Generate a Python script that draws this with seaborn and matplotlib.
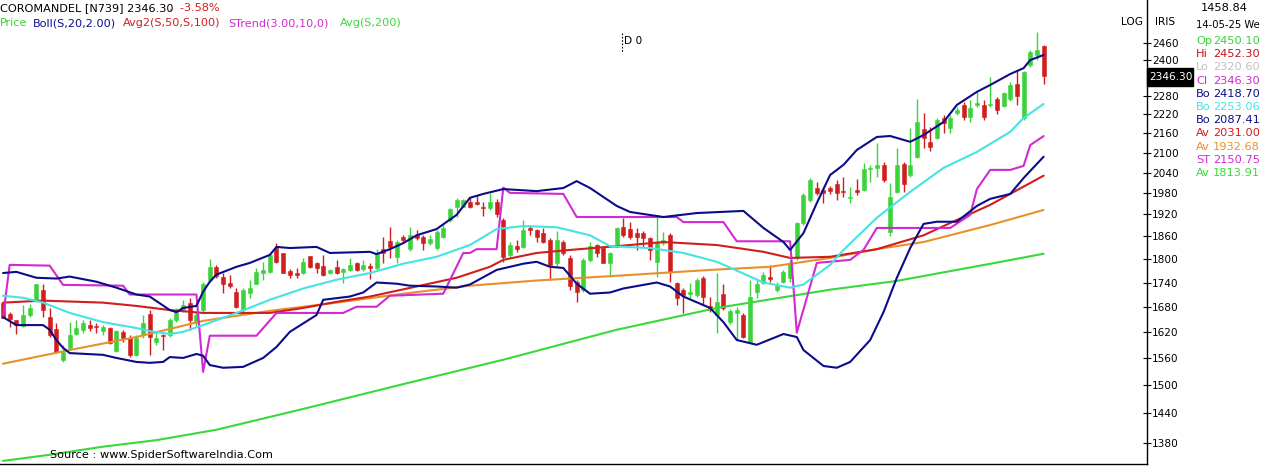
import numpy as np
import pandas as pd
import matplotlib
matplotlib.use("Agg")
import matplotlib.pyplot as plt
import seaborn as sns
from matplotlib.patches import Rectangle
from matplotlib.ticker import FixedLocator, FixedFormatter, NullLocator

# ---------------- data (daily candles, oldest -> newest) ----------------
opens = [1690, 1662, 1648, 1634, 1660, 1697, 1722, 1655, 1627, 1556,
         1583, 1615, 1625, 1636, 1634, 1622, 1629, 1576, 1620, 1606,
         1567, 1613, 1662, 1597, 1613, 1613, 1648, 1672, 1690, 1641,
         1672, 1747, 1780, 1755, 1740, 1717, 1672, 1715, 1735, 1765,
         1767, 1829, 1816, 1770, 1765, 1765, 1808, 1790, 1783, 1765,
         1780, 1767, 1772, 1790, 1775, 1783, 1777, 1826, 1848, 1806,
         1858, 1826, 1863, 1858, 1842, 1829, 1858, 1905, 1941, 1941,
         1955, 1955, 1941, 1939, 1955, 1905, 1811, 1834, 1832, 1882,
         1877, 1869, 1850, 1790, 1845, 1803, 1742, 1722, 1798, 1837,
         1829, 1790, 1832, 1885, 1880, 1869, 1869, 1855, 1793, 1842,
         1863, 1740, 1722, 1712, 1710, 1752, 1682, 1660, 1712, 1643,
         1665, 1660, 1597, 1717, 1740, 1755, 1722, 1742, 1752, 1803,
         1897, 1961, 1995, 1989, 1995, 2006, 1986, 1967, 1989, 1989,
         2051, 2054, 2063, 1871, 1984, 2066, 2033, 2087, 2173, 2133,
         2145, 2207, 2176, 2223, 2249, 2211, 2249, 2249, 2249, 2269,
         2246, 2269, 2319, 2208, 2383, 2418, 2450.10]
highs = [1692, 1667, 1648, 1685, 1687, 1737, 1735, 1677, 1641, 1590,
         1643, 1648, 1648, 1648, 1641, 1636, 1632, 1625, 1625, 1613,
         1613, 1660, 1672, 1622, 1615, 1653, 1677, 1697, 1702, 1667,
         1742, 1800, 1785, 1765, 1760, 1727, 1727, 1747, 1777, 1793,
         1816, 1842, 1816, 1775, 1777, 1803, 1808, 1793, 1811, 1775,
         1798, 1777, 1803, 1793, 1798, 1790, 1826, 1858, 1885, 1850,
         1863, 1885, 1877, 1863, 1863, 1877, 1890, 1939, 1967, 1964,
         1970, 1975, 1955, 1981, 1964, 1911, 1845, 1850, 1905, 1890,
         1880, 1882, 1855, 1874, 1850, 1811, 1747, 1803, 1845, 1840,
         1834, 1818, 1885, 1911, 1900, 1882, 1874, 1858, 1919, 1871,
         1869, 1742, 1727, 1740, 1752, 1757, 1705, 1765, 1735, 1675,
         1680, 1665, 1747, 1747, 1767, 1785, 1742, 1772, 1798, 1900,
         1981, 2024, 2012, 1995, 2001, 2018, 2027, 1998, 2021, 2069,
         2063, 2130, 2072, 2009, 2115, 2072, 2176, 2270, 2224, 2179,
         2207, 2217, 2217, 2243, 2259, 2266, 2293, 2266, 2343, 2276,
         2293, 2326, 2366, 2363, 2436, 2500, 2452.30]
lows = [1653, 1632, 1615, 1632, 1655, 1692, 1655, 1608, 1571, 1550,
        1578, 1613, 1618, 1622, 1618, 1613, 1592, 1574, 1597, 1562,
        1565, 1606, 1567, 1590, 1578, 1608, 1643, 1667, 1625, 1634,
        1667, 1742, 1752, 1715, 1725, 1677, 1667, 1702, 1735, 1747,
        1765, 1790, 1765, 1752, 1752, 1762, 1777, 1765, 1757, 1762,
        1762, 1740, 1770, 1770, 1770, 1750, 1772, 1790, 1803, 1790,
        1845, 1820, 1850, 1824, 1837, 1824, 1855, 1900, 1913, 1941,
        1939, 1947, 1916, 1933, 1913, 1793, 1806, 1818, 1829, 1863,
        1845, 1842, 1747, 1780, 1811, 1722, 1692, 1717, 1793, 1806,
        1790, 1755, 1832, 1858, 1853, 1824, 1829, 1798, 1755, 1837,
        1742, 1685, 1665, 1702, 1705, 1685, 1667, 1618, 1672, 1638,
        1601, 1606, 1594, 1702, 1735, 1742, 1717, 1740, 1742, 1798,
        1892, 1955, 1975, 1953, 1978, 1961, 1970, 1953, 1975, 1986,
        2012, 2027, 2012, 1861, 1981, 1984, 2027, 2084, 2114, 2105,
        2142, 2161, 2161, 2217, 2201, 2195, 2243, 2201, 2243, 2220,
        2243, 2262, 2249, 2201, 2376, 2401, 2320.60]
closes = [1653, 1650, 1636, 1660, 1677, 1735, 1672, 1613, 1574, 1574,
          1613, 1629, 1641, 1629, 1632, 1632, 1594, 1622, 1606, 1567,
          1606, 1641, 1608, 1606, 1611, 1648, 1667, 1685, 1648, 1660,
          1735, 1780, 1757, 1737, 1732, 1680, 1722, 1727, 1767, 1772,
          1811, 1793, 1765, 1760, 1760, 1793, 1780, 1777, 1760, 1772,
          1765, 1775, 1785, 1772, 1785, 1777, 1816, 1816, 1831, 1845,
          1850, 1863, 1855, 1842, 1853, 1871, 1882, 1936, 1961, 1961,
          1941, 1950, 1939, 1955, 1922, 1806, 1837, 1826, 1877, 1877,
          1858, 1845, 1785, 1850, 1816, 1730, 1717, 1798, 1834, 1816,
          1790, 1816, 1882, 1863, 1858, 1858, 1855, 1824, 1845, 1850,
          1767, 1702, 1710, 1717, 1747, 1705, 1672, 1692, 1677, 1670,
          1672, 1608, 1705, 1735, 1760, 1750, 1730, 1767, 1790, 1897,
          1975, 2018, 1981, 1981, 1986, 1981, 1984, 1970, 1984, 2051,
          2054, 2063, 2018, 1970, 2063, 2006, 2063, 2195, 2145, 2117,
          2201, 2192, 2207, 2233, 2211, 2239, 2256, 2211, 2253, 2233,
          2289, 2316, 2279, 2360, 2429, 2436, 2346.30]

# indicator lines: (candle index, value) knots
boll_up_idx = [0, 2, 5, 8, 10, 14, 17, 20, 22, 25, 26, 27, 29, 30, 31, 32, 35, 37, 40, 41,
               43, 47, 49, 55, 56, 58, 60, 62, 65, 68, 70, 72, 75, 80, 84, 86, 88, 92, 94, 99,
               104, 111, 114, 117, 118, 120, 122, 124, 126, 128, 131, 133, 136, 138, 141, 143,
               146, 148, 151, 153, 154, 156]
boll_up_val = [1764, 1767, 1752, 1750, 1755, 1742, 1727, 1710, 1705, 1672, 1667, 1677, 1682, 1717,
               1742, 1760, 1780, 1790, 1811, 1832, 1829, 1832, 1816, 1819, 1813, 1826, 1842, 1863,
               1880, 1919, 1967, 1978, 1992, 1986, 1995, 2015, 1995, 1944, 1927, 1913, 1924, 1930,
               1883, 1845, 1824, 1869, 1952, 2033, 2063, 2108, 2148, 2151, 2133, 2154, 2195, 2250,
               2293, 2316, 2353, 2373, 2401, 2418.70]
boll_mid_idx = [0, 3, 6, 10, 15, 20, 22, 25, 27, 30, 35, 40, 45, 50, 55, 60, 65, 70, 74, 78,
                83, 88, 91, 97, 102, 107, 112, 114, 118, 120, 124, 126, 131, 136, 141, 146,
                151, 153, 156]
boll_mid_val = [1707, 1702, 1690, 1665, 1643, 1629, 1622, 1615, 1620, 1636, 1665, 1697, 1725,
                1747, 1764, 1788, 1806, 1837, 1880, 1888, 1885, 1863, 1834, 1829, 1816, 1793,
                1755, 1740, 1727, 1735, 1785, 1824, 1911, 1984, 2054, 2102, 2164, 2208, 2253.06]
boll_lo_idx = [0, 2, 6, 7, 8, 9, 10, 15, 17, 20, 22, 24, 25, 27, 29, 30, 31, 33, 36, 39, 41,
               43, 47, 48, 52, 54, 56, 59, 61, 65, 68, 70, 74, 78, 80, 82, 84, 86, 88, 91, 93,
               98, 100, 102, 106, 108, 110, 113, 117, 119, 120, 123, 125, 127, 130, 132, 134,
               136, 138, 140, 143, 146, 148, 151, 153, 156]
boll_lo_val = [1655, 1636, 1636, 1625, 1601, 1583, 1571, 1567, 1560, 1551, 1549, 1551, 1562,
               1560, 1569, 1565, 1544, 1538, 1540, 1560, 1585, 1620, 1660, 1697, 1705, 1715,
               1740, 1737, 1732, 1730, 1727, 1735, 1772, 1788, 1793, 1780, 1777, 1737, 1712,
               1715, 1725, 1740, 1730, 1705, 1677, 1643, 1601, 1590, 1615, 1608, 1578, 1542,
               1538, 1551, 1601, 1667, 1752, 1829, 1894, 1900, 1900, 1944, 1964, 1978, 2024,
               2087.41]
avg50_idx = [0, 6, 15, 20, 25, 30, 40, 45, 50, 55, 62, 68, 73, 75, 80, 85, 92, 99, 107, 114,
             118, 124, 131, 138, 143, 148, 156]
avg50_val = [1690, 1695, 1690, 1682, 1672, 1665, 1665, 1677, 1692, 1705, 1730, 1752, 1780,
             1798, 1816, 1824, 1834, 1845, 1837, 1819, 1803, 1806, 1826, 1863, 1905, 1947,
             2031.00]
avg100_idx = [0, 10, 20, 30, 40, 50, 60, 70, 80, 92, 106, 115, 124, 131, 138, 148, 156]
avg100_val = [1547, 1578, 1608, 1646, 1670, 1690, 1712, 1732, 1745, 1757, 1772, 1780, 1803,
              1826, 1845, 1891, 1932.68]
strend_idx = [0, 1, 7, 9, 18, 19, 29, 30, 31, 38, 41, 51, 53, 56, 58, 66, 69, 70, 71, 74,
              75, 76, 84, 86, 101, 102, 108, 110, 118, 119, 122, 127, 129, 131, 142, 145,
              146, 148, 151, 153, 154, 156]
strend_val = [1655, 1785, 1783, 1734, 1732, 1710, 1710, 1529, 1611, 1611, 1665, 1665, 1680,
              1680, 1707, 1712, 1816, 1816, 1826, 1826, 1996, 1981, 1978, 1913, 1913, 1899,
              1899, 1847, 1847, 1618, 1790, 1798, 1824, 1883, 1883, 1919, 1992, 2048, 2048,
              2060, 2123, 2150.75]
avg200_idx = [0, 7, 15, 23, 32, 45, 60, 75, 92, 107, 124, 134, 149, 156]
avg200_val = [1344, 1356, 1372, 1385, 1406, 1449, 1502, 1556, 1625, 1677, 1722, 1744, 1791,
              1813.91]

ytick_vals = [1380, 1440, 1500, 1560, 1620, 1680, 1740, 1800, 1860, 1920, 1980,
              2040, 2100, 2160, 2220, 2280, 2400, 2460]

panel_labels = ["Op", "Hi", "Lo", "Cl", "Bo", "Bo", "Bo", "Av", "Av", "ST", "Av"]
panel_values = ["2450.10", "2452.30", "2320.60", "2346.30", "2418.70", "2253.06",
                "2087.41", "2031.00", "1932.68", "2150.75", "1813.91"]

# ---------------- styling ----------------
sns.set_style("white")
plt.rcParams['font.family'] = ['DejaVu Sans']
FS = 7.6
FS_HEAD = 8.1
FS_PANEL = 8.2

GREEN = '#3cd23c'
RED = '#d01e1e'
NAVY = '#0c0c8a'
CYAN = '#45e3e3'
ORANGE = '#e8902a'
MAGENTA = '#d22ad2'
LGREEN = '#3ad83a'

W, H = 1266, 469
fig = plt.figure(figsize=(W / 100, H / 100), dpi=100)
ax = fig.add_axes([0, 5 / H, 1147 / W, 464 / H])
ax.set_yscale('log')

# ---------------- candles ----------------
o = np.array(opens, float)
c = np.array(closes, float)
hi = np.array(highs, float)
lo = np.array(lows, float)
idx = np.arange(len(c))
cols = np.where(c >= o, GREEN, RED)
ax.vlines(idx, lo, hi, colors=cols, lw=1.0, zorder=2)
bottoms = np.minimum(o, c)
heights = np.maximum(np.abs(c - o), 1.5)
ax.bar(idx, heights, bottom=bottoms, width=0.6, color=cols, edgecolor=cols,
       lw=0.4, zorder=3)

# ---------------- indicator lines ----------------
lines = [
    (avg200_idx, avg200_val, LGREEN),
    (avg100_idx, avg100_val, ORANGE),
    (avg50_idx, avg50_val, RED),
    (strend_idx, strend_val, MAGENTA),
    (boll_mid_idx, boll_mid_val, CYAN),
    (boll_lo_idx, boll_lo_val, NAVY),
    (boll_up_idx, boll_up_val, NAVY),
]
for xi, yv, colr in lines:
    df = pd.DataFrame({"i": xi, "v": yv})
    sns.lineplot(data=df, x="i", y="v", color=colr, lw=1.5, ax=ax,
                 estimator=None, sort=False, zorder=4)

# ---------------- axes ----------------
ax.set_xlim(-0.45, 171.5)
ax.set_ylim(1338, 2619)
ax.set_xlabel("")
ax.set_ylabel("")
ax.set_xticks([])
ax.yaxis.tick_right()
ax.yaxis.set_major_locator(FixedLocator(ytick_vals))
ax.yaxis.set_major_formatter(FixedFormatter([str(v) for v in ytick_vals]))
ax.yaxis.set_minor_locator(NullLocator())
ax.tick_params(axis='y', direction='inout', length=6, width=0.8, colors='black',
               labelsize=FS, pad=0.5)
for s in ['left', 'top']:
    ax.spines[s].set_visible(False)
for s in ['right', 'bottom']:
    ax.spines[s].set_visible(True)
    ax.spines[s].set_color('black')
    ax.spines[s].set_linewidth(1.0)
ax.grid(False)


def ftext(x, y, s, color='black', fs=FS, **kw):
    return fig.text(x / W, 1 - y / H, s, color=color, fontsize=fs,
                    va='center', ha=kw.pop('ha', 'left'), **kw)


# header
ftext(0, 8, "COROMANDEL [N739] 2346.30", 'black', FS_HEAD)
ftext(169, 8, ",  -3.58%", '#d02020', FS_HEAD)
ftext(0, 23, "Price", GREEN, FS_HEAD)
ftext(33, 23, "Boll(S,20,2.00)", NAVY, FS_HEAD)
ftext(123, 23, "Avg2(S,50,S,100)", RED, FS_HEAD)
ftext(228, 23, "STrend(3.00,10,0)", MAGENTA, FS_HEAD)
ftext(340, 23, "Avg(S,200)", LGREEN, FS_HEAD)

# D 0 marker
fig.add_artist(plt.Line2D([622 / W, 622 / W], [1 - 33 / H, 1 - 52 / H],
                          transform=fig.transFigure, color='black', lw=0.8,
                          ls=(0, (1.5, 1.5))))
ftext(624, 41, "D 0")

# top right labels
ftext(1121, 22, "LOG")
ftext(1155, 22, "IRIS")

# current price box
fig.add_artist(Rectangle((1147 / W, 1 - 86 / H), 46 / W, 18 / H,
                         transform=fig.transFigure, color='black', zorder=10))
fig.text(1149 / W, 1 - 77 / H, "2346.30", color='white', fontsize=FS,
         va='center', ha='left', zorder=11)

# right info panel
ftext(1201, 8, "1458.84", 'black', FS_PANEL)
ftext(1196, 25, "14-05-25 We", 'black', 7.2)
panel_cols = [GREEN, '#d01010', '#c0c0c0', MAGENTA, NAVY, CYAN, NAVY, RED, ORANGE,
              MAGENTA, LGREEN]
for k, (lab, val, colr) in enumerate(zip(panel_labels, panel_values, panel_cols)):
    yy = 41 + 13.2 * k
    ftext(1196, yy, lab, colr, FS_PANEL)
    ftext(1213, yy, val, colr, FS_PANEL)

# source
ftext(50, 455, "Source : www.SpiderSoftwareIndia.Com", 'black', FS_HEAD)

fig.savefig("out.png", dpi=100)
